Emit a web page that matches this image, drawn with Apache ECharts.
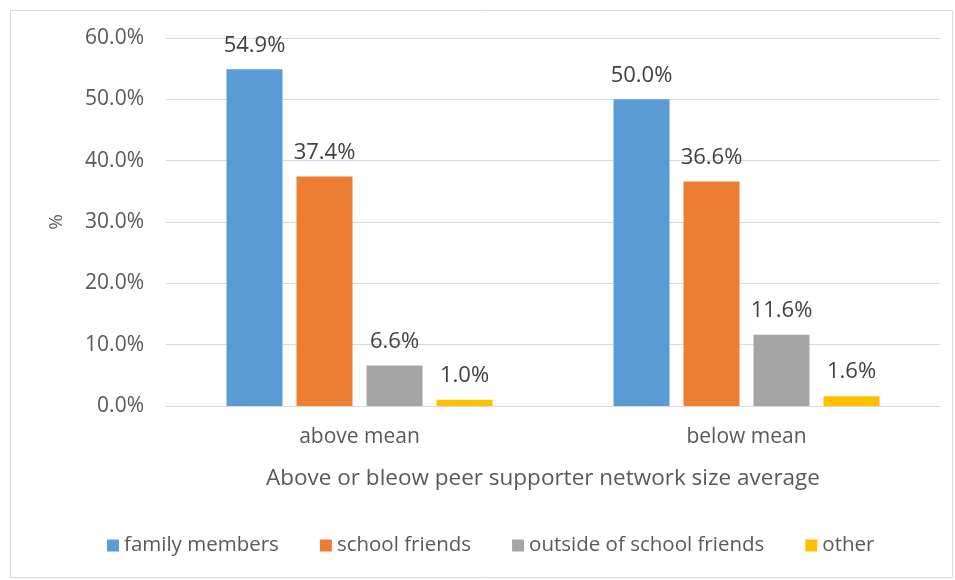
<!DOCTYPE html>
<html><head><meta charset="utf-8">
<script src="https://cdn.jsdelivr.net/npm/echarts@6/dist/echarts.min.js"></script>
<style>html,body{margin:0;padding:0;background:#fff}#c{width:955px;height:580px}</style>
</head><body><div id="c"></div>
<script>
const categories = ['above mean', 'below mean'];
const seriesNames = ['family members', 'school friends', 'outside of school friends', 'other'];
const familyMembers = [54.9, 50.0];
const schoolFriends = [37.4, 36.6];
const outsideFriends = [6.6, 11.6];
const other = [1.0, 1.6];
const yTicks = [0, 10, 20, 30, 40, 50, 60];
const colors = ['#5B9BD5', '#ED7D31', '#A5A5A5', '#FFC000'];
const FONT = '"Open Sans", "Noto Sans", sans-serif';
const values = [familyMembers, schoolFriends, outsideFriends, other];

const chart = echarts.init(document.getElementById('c'), null, {renderer: 'canvas'});
chart.setOption({
  animation: false,
  backgroundColor: '#fff',
  textStyle: {fontFamily: FONT},
  graphic: [{type: 'rect', shape: {x: 10.5, y: 10.5, width: 942, height: 567}, style: {fill: 'none', stroke: '#d9d9d9', lineWidth: 1}, silent: true}],
  grid: {left: 166, right: 15, top: 38, bottom: 174, containLabel: false},
  legend: {
    data: seriesNames, top: 530, left: 102, icon: 'rect', itemWidth: 12, itemHeight: 12, itemGap: 41,
    textStyle: {color: '#595959', fontSize: 20.5, fontFamily: FONT, padding: [0, 0, 0, 0]}
  },
  xAxis: {
    type: 'category', data: categories,
    axisLine: {lineStyle: {color: '#d9d9d9'}}, axisTick: {show: false},
    axisLabel: {color: '#595959', fontSize: 21, margin: 21, fontFamily: FONT},
    name: 'Above or bleow peer supporter network size average', nameLocation: 'middle', nameGap: 61,
    nameTextStyle: {color: '#595959', fontSize: 22.5, fontFamily: FONT, padding: [0, 20, 0, 0]}
  },
  yAxis: {
    type: 'value', min: yTicks[0], max: yTicks[yTicks.length - 1], interval: 10,
    axisLine: {show: false}, axisTick: {show: false},
    splitLine: {lineStyle: {color: '#d9d9d9'}},
    axisLabel: {color: '#595959', fontSize: 21, margin: 22, fontFamily: FONT, formatter: v => v.toFixed(1) + '%'},
    name: '%', nameLocation: 'middle', nameGap: 100, nameRotate: 90,
    nameTextStyle: {color: '#595959', fontSize: 19, fontFamily: FONT}
  },
  series: seriesNames.map((n, i) => ({
    name: n, type: 'bar', data: values[i], barWidth: 56, barGap: '25%', barCategoryGap: '31%',
    itemStyle: {color: colors[i]},
    label: {show: true, position: 'top', distance: 13, color: '#404040', fontSize: 22, fontFamily: FONT, formatter: p => p.value.toFixed(1) + '%'}
  }))
});
</script></body></html>
